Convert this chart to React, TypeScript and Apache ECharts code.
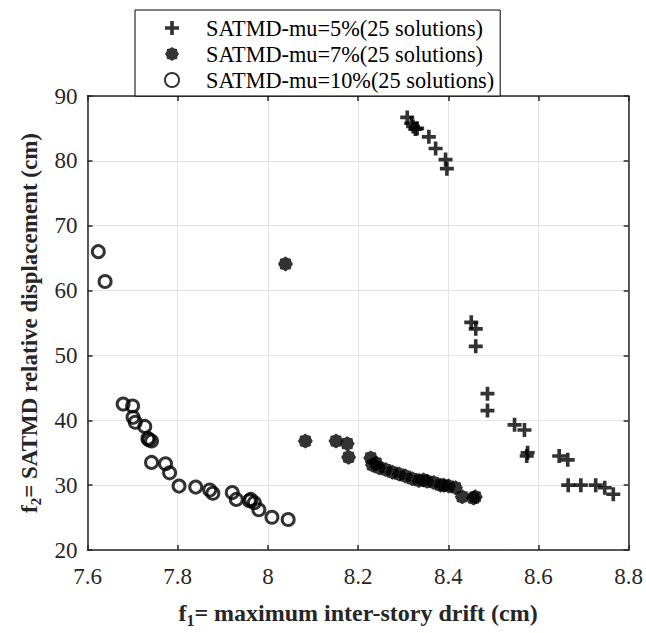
import React, { useEffect, useRef } from "react";
import * as echarts from "echarts";

const seriesNames = [
  "SATMD-mu=5%(25 solutions)",
  "SATMD-mu=7%(25 solutions)",
  "SATMD-mu=10%(25 solutions)",
];

const xTicks = [7.6, 7.8, 8, 8.2, 8.4, 8.6, 8.8];
const yTicks = [20, 30, 40, 50, 60, 70, 80, 90];

const mu5: [number, number][] = [
  [8.309, 86.7], [8.318, 85.8], [8.322, 85.3], [8.327, 84.9], [8.331, 85.0],
  [8.357, 83.7], [8.372, 81.9], [8.394, 80.2], [8.397, 78.8],
  [8.451, 55.1], [8.461, 54.1], [8.461, 51.4],
  [8.487, 44.1], [8.487, 41.5],
  [8.547, 39.3], [8.569, 38.5], [8.576, 35.0], [8.574, 34.5],
  [8.646, 34.5], [8.665, 33.9],
  [8.666, 30.0], [8.694, 30.0], [8.727, 30.0], [8.747, 29.6], [8.766, 28.6],
];

const mu7: [number, number][] = [
  [8.039, 64.1],
  [8.083, 36.8], [8.151, 36.8], [8.176, 36.4], [8.179, 34.3],
  [8.228, 34.2], [8.232, 33.1], [8.24, 33.4], [8.246, 32.7], [8.261, 32.4],
  [8.276, 32.0], [8.291, 31.7], [8.305, 31.4], [8.32, 31.0], [8.335, 30.7],
  [8.345, 30.8], [8.353, 30.6], [8.368, 30.4], [8.383, 30.0], [8.39, 30.0],
  [8.401, 29.85], [8.416, 29.6], [8.431, 28.2], [8.456, 28.0], [8.46, 28.2],
];

const mu10: [number, number][] = [
  [7.624, 66.0], [7.639, 61.4],
  [7.679, 42.5], [7.7, 42.2], [7.701, 40.45], [7.706, 39.7],
  [7.727, 39.05], [7.734, 37.2], [7.736, 37.0], [7.742, 36.8], [7.742, 33.5],
  [7.773, 33.3], [7.782, 31.9], [7.803, 29.85], [7.84, 29.7],
  [7.871, 29.25], [7.878, 28.75], [7.921, 28.85], [7.93, 27.8],
  [7.959, 27.6], [7.962, 27.8], [7.97, 27.3], [7.98, 26.2], [8.009, 25.05], [8.045, 24.7],
];

const plusPath =
  "path://M3.7,0h2.6v3.7h3.7v2.6h-3.7v3.7h-2.6v-3.7h-3.7v-2.6h3.7z";
const starPath =
  "path://M20,10L17.85,13.25L17.07,17.07L13.25,17.85L10,20L6.75,17.85L2.93,17.07L2.15,13.25L0,10L2.15,6.75L2.93,2.93L6.75,2.15L10,0L13.25,2.15L17.07,2.93L17.85,6.75Z";

const FONT = "'Liberation Serif', 'Times New Roman', Times, serif";
const TXT = "#262626";

export default function App() {
  const ref = useRef<HTMLDivElement>(null);
  useEffect(() => {
    if (!ref.current) return;
    const chart = echarts.init(ref.current, null, { renderer: "svg" });
    const axisCommon = {
      type: "value" as const,
      axisLine: { show: true, onZero: false, lineStyle: { color: "#262626", width: 1.5 } },
      axisTick: { show: true, inside: true, length: 5, lineStyle: { color: "#262626", width: 1.5 } },
    };
    const richTitle = (size: number) => ({
      a: { fontFamily: FONT, fontSize: size, fontWeight: "bold", color: TXT },
      s: { fontFamily: FONT, fontSize: Math.round(size * 0.66), fontWeight: "bold", color: TXT, verticalAlign: "bottom", padding: [Math.round(size * 0.6), 0, 0, 0] },
    });
    chart.setOption({
      animation: false,
      backgroundColor: "#fff",
      textStyle: { fontFamily: FONT },
      grid: { left: 87.5, right: 15.5, top: 96, bottom: 78, containLabel: false },
      legend: {
        orient: "vertical",
        left: 135,
        top: 10,
        itemWidth: 14,
        itemHeight: 14,
        itemGap: 0,
        padding: [5, 6, 3, 29],
        borderColor: "#000",
        borderWidth: 1,
        backgroundColor: "#fff",
        textStyle: { fontFamily: FONT, fontSize: 22.3, lineHeight: 26, color: "#000", padding: [0, 0, 0, 22] },
        data: seriesNames,
      },
      xAxis: [
        {
          ...axisCommon,
          min: 7.6,
          max: 8.8,
          interval: 0.2,
          position: "bottom",
          splitLine: { show: true, lineStyle: { color: "#e3e3e3", width: 1 } },
          axisLabel: {
            fontFamily: FONT,
            fontSize: 23,
            color: TXT,
            margin: 15,
            formatter: (v: number) => {
              const t = xTicks.find((x) => Math.abs(x - v) < 1e-6);
              return t === undefined ? "" : String(t);
            },
          },
          name: "{a|f}{s|1}{a|= maximum inter-story drift (cm)}",
          nameLocation: "middle",
          nameGap: 48,
          nameTextStyle: { rich: richTitle(24) },
        },
        {
          ...axisCommon,
          min: 7.6,
          max: 8.8,
          interval: 0.2,
          position: "top",
          splitLine: { show: false },
          axisLabel: { show: false },
        },
      ],
      yAxis: [
        {
          ...axisCommon,
          min: 20,
          max: 90,
          interval: 10,
          position: "left",
          splitLine: { show: true, lineStyle: { color: "#e3e3e3", width: 1 } },
          axisLabel: {
            fontFamily: FONT,
            fontSize: 23,
            color: TXT,
            margin: 10,
            formatter: (v: number) => {
              const t = yTicks.find((y) => Math.abs(y - v) < 1e-6);
              return t === undefined ? "" : String(t);
            },
          },
          name: "{a|f}{s|2}{a|= SATMD relative displacement (cm)}",
          nameLocation: "middle",
          nameRotate: 90,
          nameGap: 44,
          nameTextStyle: { rich: richTitle(23) },
        },
        {
          ...axisCommon,
          min: 20,
          max: 90,
          interval: 10,
          position: "right",
          splitLine: { show: false },
          axisLabel: { show: false },
        },
      ],
      series: [
        {
          name: seriesNames[0],
          type: "scatter",
          data: mu5,
          symbol: plusPath,
          symbolSize: 14,
          itemStyle: { color: "#000" },
        },
        {
          name: seriesNames[1],
          type: "scatter",
          data: mu7,
          symbol: starPath,
          symbolSize: 15,
          itemStyle: { color: "#000" },
        },
        {
          name: seriesNames[2],
          type: "scatter",
          data: mu10,
          symbol: "circle",
          symbolSize: 12,
          itemStyle: { color: "rgba(0,0,0,0)", borderColor: "#000", borderWidth: 3 },
        },
      ],
    });
    return () => chart.dispose();
  }, []);
  return <div ref={ref} style={{ width: 646, height: 633, position: "absolute", left: 0, top: 0 }} />;
}
